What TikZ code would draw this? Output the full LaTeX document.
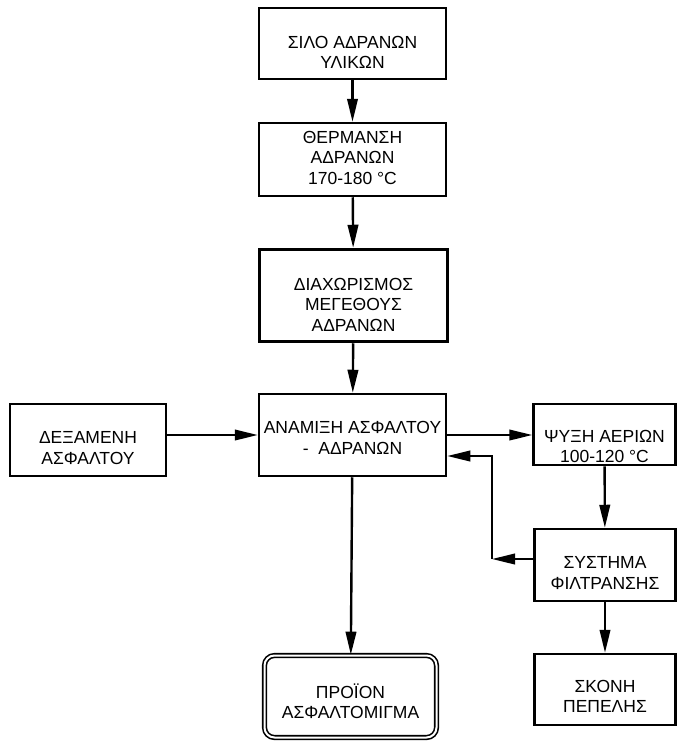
\documentclass[tikz,border=0pt]{standalone}
\usepackage{fontspec}
\setmainfont{Liberation Sans}
\usetikzlibrary{arrows.meta}

\tikzset{
  box/.style={draw, line width=2.5pt, inner sep=0pt},
  lbl/.style={align=center, font=\fontsize{17.5}{20.5}\selectfont},
  arr/.style={line width=2.4pt, -{Triangle[length=23pt,width=10.5pt]}},
}

\begin{document}
\begin{tikzpicture}[x=1pt,y=-1pt]
  \useasboundingbox (0,0) rectangle (678,742);

  % boxes
  \node (silo)   at (352.5,43.5) [box, minimum width=187pt, minimum height=71pt] {};
  \node (heat)   at (352.5,159.5) [box, minimum width=187pt, minimum height=73pt] {};
  \node (sep)    at (353.5,295.5) [box, line width=3.5pt, minimum width=188pt, minimum height=92pt] {};
  \node (tank)   at (88,440)     [box, minimum width=156pt, minimum height=72pt] {};
  \node (mix)    at (352.5,435)  [box, minimum width=187pt, minimum height=82pt] {};
  \node (cool)   at (604.5,434.5) [box, minimum width=142pt, minimum height=61pt] {};
  \node (filter) at (605,565)    [box, minimum width=141pt, minimum height=72pt] {};
  \node (dust)   at (605,689.5)  [box, minimum width=141pt, minimum height=71pt] {};
  \node (prod)   at (350.5,696.5) [box, line width=1.6pt, double, double distance=2pt,
                                   rounded corners=10pt, minimum width=172pt, minimum height=82pt] {};

  % texts
  \node (silo-t)   at ([yshift=-9pt]silo.center)   [lbl] {ΣΙΛΟ ΑΔΡΑΝΩΝ\\ΥΛΙΚΩΝ};
  \node (heat-t)   at ([yshift=2pt]heat.center)    [lbl] {ΘΕΡΜΑΝΣΗ\\ΑΔΡΑΝΩΝ\\170-180 °C};
  \node (sep-t)    at ([yshift=-9pt]sep.center)    [lbl] {ΔΙΑΧΩΡΙΣΜΟΣ\\ΜΕΓΕΘΟΥΣ\\ΑΔΡΑΝΩΝ};
  \node (tank-t)   at ([yshift=-8pt]tank.center)   [lbl] {ΔΕΞΑΜΕΝΗ\\ΑΣΦΑΛΤΟΥ};
  \node (mix-t)    at ([yshift=-3pt]mix.center)    [lbl] {ΑΝΑΜΙΞΗ ΑΣΦΑΛΤΟΥ\\-\ \ ΑΔΡΑΝΩΝ};
  \node (cool-t)   at ([yshift=-12pt]cool.center)  [lbl] {ΨΥΞΗ ΑΕΡΙΩΝ\\100-120 °C};
  \node (filter-t) at ([yshift=-8pt]filter.center) [lbl] {ΣΥΣΤΗΜΑ\\ΦΙΛΤΡΑΝΣΗΣ};
  \node (dust-t)   at ([yshift=-7pt]dust.center)   [lbl] {ΣΚΟΝΗ\\ΠΕΠΕΛΗΣ};
  \node (prod-t)   at ([yshift=-5pt]prod.center)   [lbl] {ΠΡΟΪΟΝ\\ΑΣΦΑΛΤΟΜΙΓΜΑ};

  % flow
  \draw[arr] (silo) -- (heat);
  \draw[arr] (heat) -- (sep);
  \draw[arr] (sep) -- (mix);
  \draw[arr] (tank.east |- mix.west) -- (mix.west);
  \draw[arr] (mix.east) -- (cool.west |- mix.east);
  \draw[arr] (cool) -- (filter);
  \draw[arr] (filter) -- (dust);
  \draw[arr] (mix) -- (prod);

  % return line
  \coordinate (turn) at (492,559);
  \coordinate (ret)  at (492,456);
  \draw[arr] (filter.west |- turn) -- (turn);
  \draw[arr] (turn) -- (ret) -- (ret -| mix.east);
\end{tikzpicture}
\end{document}
